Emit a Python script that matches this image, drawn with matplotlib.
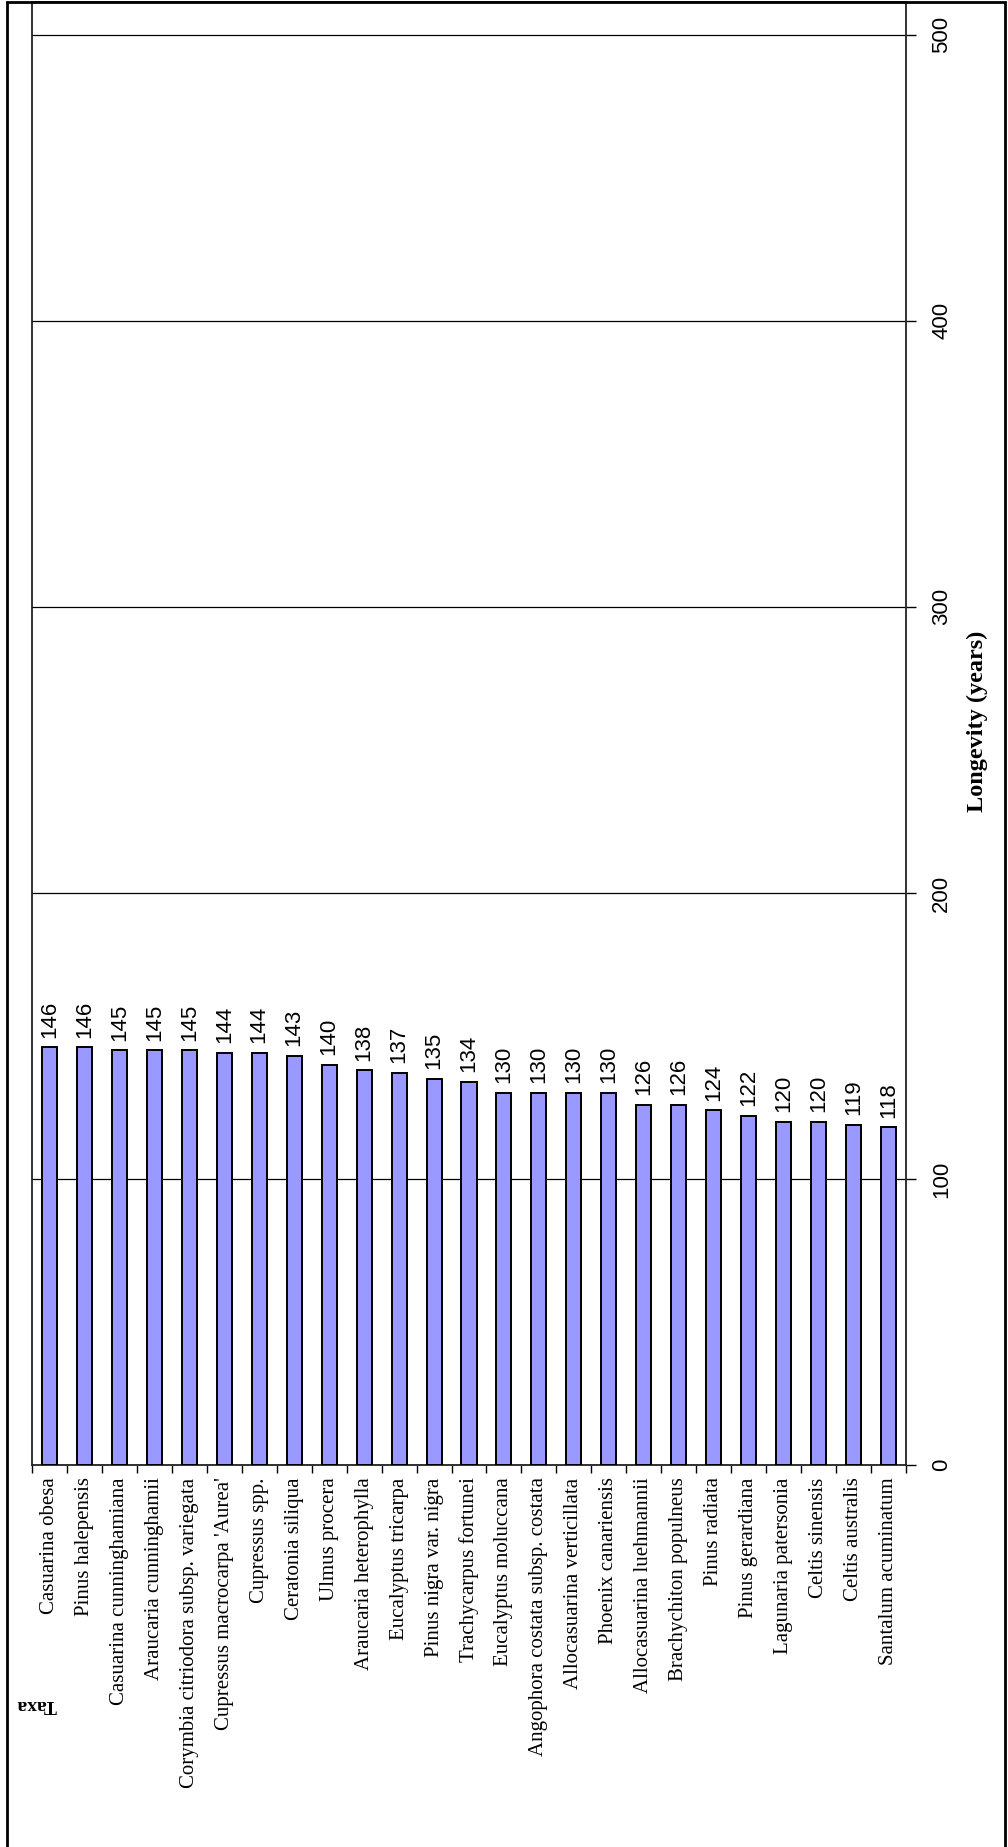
"""
Tree longevity by taxon, drawn as a column chart turned on its side
"""
import matplotlib
matplotlib.use('Agg')
import matplotlib.pyplot as plt
from matplotlib.patches import Rectangle
from matplotlib.ticker import FixedLocator, NullFormatter
#----------------------------DATA-------------------------------#
taxa = ['Casuarina obesa', 'Pinus halepensis', 'Casuarina cunninghamiana',
        'Araucaria cunninghamii', 'Corymbia citriodora subsp. variegata',
        "Cupressus macrocarpa 'Aurea'", 'Cupressus spp.', 'Ceratonia siliqua',
        'Ulmus procera', 'Araucaria heterophylla', 'Eucalyptus tricarpa',
        'Pinus nigra var. nigra', 'Trachycarpus fortunei', 'Eucalyptus moluccana',
        'Angophora costata subsp. costata', 'Allocasuarina verticillata',
        'Phoenix canariensis', 'Allocasuarina luehmannii', 'Brachychiton populneus',
        'Pinus radiata', 'Pinus gerardiana', 'Lagunaria patersonia',
        'Celtis sinensis', 'Celtis australis', 'Santalum acuminatum']
longevity = [146, 146, 145, 145, 145, 144, 144, 143, 140, 138, 137, 135, 134,
             130, 130, 130, 130, 126, 126, 124, 122, 120, 120, 119, 118]
value_ticks = [0, 100, 200, 300, 400, 500]
#---------------------------------------------------------------#
W, H = 1008, 1847
serif = 'Liberation Serif'
sans = 'Liberation Sans'

fig = plt.figure(figsize=(W / 100, H / 100), dpi=100)
ax = fig.add_axes([32 / W, 1 - 1465 / H, (906 - 32) / W, (1465 - 2) / H])

x = list(range(len(taxa)))
ax.bar(x, longevity, width=0.43, color='#9999FF', edgecolor='black',
       linewidth=1.4, zorder=3)
for xi, v in zip(x, longevity):
    ax.annotate(str(v), (xi, v), xytext=(0, 7), textcoords='offset points',
                rotation=90, ha='center', va='bottom', fontsize=16,
                family=sans, zorder=4)

ax.set_xlim(-0.5, len(taxa) - 0.5)
ax.set_ylim(0, 511.5)

# value axis sits on the right
ax.yaxis.tick_right()
ax.set_yticks(value_ticks)
ax.set_yticklabels([str(t) for t in value_ticks], rotation=90, va='center',
                   fontsize=16, family=sans)
ax.tick_params(axis='y', direction='out', length=7, width=1, pad=11)
ax.grid(axis='y', color='black', linewidth=0.9, zorder=1)

# category labels centred under bars, ticks between them
ax.set_xticks(x)
ax.set_xticklabels(taxa, rotation=90, fontsize=15, family=serif)
ax.tick_params(axis='x', which='major', length=0, pad=9)
ax.xaxis.set_minor_locator(FixedLocator([i + 0.5 for i in range(-1, len(taxa))]))
ax.xaxis.set_minor_formatter(NullFormatter())
ax.tick_params(axis='x', which='minor', direction='out', length=6, width=1)

for s in ax.spines.values():
    s.set_linewidth(1.3)
    s.set_color('#222222')

fig.text(977 / W, 1 - 721 / H, 'Longevity (years)', rotation=90, ha='center',
         va='center', fontsize=17.5, fontweight='bold', family=serif)
fig.text(36 / W, 1 - 1705 / H, 'Taxa', rotation=180, ha='center',
         va='center', fontsize=14, fontweight='bold', family=serif)

# outer chart frame
fig.patches.append(Rectangle((7 / W, -0.01), (1005 - 7) / W, 1.01 - 2 / H,
                             transform=fig.transFigure, fill=False,
                             edgecolor='black', linewidth=2))

plt.savefig('out.png', dpi=100)
